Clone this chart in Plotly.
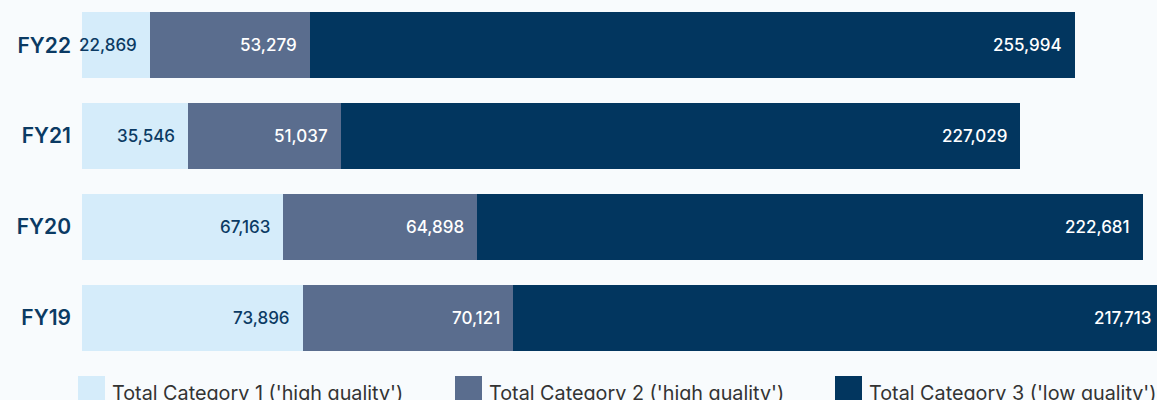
import plotly.graph_objects as go

# Fiscal years, top to bottom
years = ["FY22", "FY21", "FY20", "FY19"]

# Totals per category
cat1 = [22869, 35546, 67163, 73896]
cat2 = [53279, 51037, 64898, 70121]
cat3 = [255994, 227029, 222681, 217713]

series_names = [
    "Total Category 1 ('high quality')",
    "Total Category 2 ('high quality')",
    "Total Category 3 ('low quality')",
]
series_values = [cat1, cat2, cat3]
colors = ["#d5ecfa", "#5a6d8e", "#02365f"]
label_colors = ["#0b3a63", "#ffffff", "#ffffff"]

BG = "#f8fbfd"
FIG_W, FIG_H = 1165, 400
M_L, M_R, M_T, M_B = 82, 0, 0, 37
PLOT_W = FIG_W - M_L - M_R
PLOT_H = FIG_H - M_T - M_B
X_MAX = 362100

fig = go.Figure()
for name, vals, col in zip(series_names, series_values, colors):
    fig.add_trace(go.Bar(
        y=years, x=vals, orientation="h", name=name,
        marker=dict(color=col, line=dict(width=0)),
        showlegend=False, hoverinfo="x+name",
    ))

# value labels anchored at the right end of each segment
annotations = []
cum = [0] * len(years)
for vals, lc in zip(series_values, label_colors):
    for i, (yr, v) in enumerate(zip(years, vals)):
        cum[i] += v
        annotations.append(dict(
            x=cum[i], y=yr, xref="x", yref="y",
            text=f"{v:,}", showarrow=False,
            xanchor="right", yanchor="middle", xshift=-11,
            font=dict(family="Inter", size=17, color=lc, weight=500),
        ))

# custom legend along the bottom edge
def px_x(p):
    return (p - M_L) / PLOT_W

def px_y(p):
    return (PLOT_H + M_T - p) / PLOT_H

legend_x = [78, 455, 835]
shapes = []
for lx, col, name in zip(legend_x, colors, series_names):
    shapes.append(dict(
        type="rect", xref="paper", yref="paper",
        x0=px_x(lx), x1=px_x(lx + 27), y0=px_y(376), y1=px_y(410),
        fillcolor=col, line=dict(width=0), layer="above",
    ))
    annotations.append(dict(
        x=px_x(lx + 32), y=px_y(393), xref="paper", yref="paper",
        text=name, showarrow=False, xanchor="left", yanchor="middle",
        font=dict(family="Inter", size=19.8, color="#333333"),
    ))

fig.update_layout(
    width=FIG_W, height=FIG_H, autosize=False,
    margin=dict(l=M_L, r=M_R, t=M_T, b=M_B, pad=0),
    paper_bgcolor=BG, plot_bgcolor=BG,
    barmode="stack", bargap=0.272,
    annotations=annotations, shapes=shapes,
    xaxis=dict(range=[0, X_MAX], visible=False, fixedrange=True),
    yaxis=dict(
        categoryorder="array", categoryarray=years, autorange="reversed",
        showgrid=False, zeroline=False, showline=False, ticks="",
        ticklabelstandoff=10,
        tickfont=dict(family="Inter", size=21, color="#0b3a63", weight=600),
        fixedrange=True,
    ),
)

fig.write_html(
    "out.html",
    config={"displayModeBar": False},
    post_script="document.documentElement.style.overflow='hidden';document.body.style.overflow='hidden';",
)
